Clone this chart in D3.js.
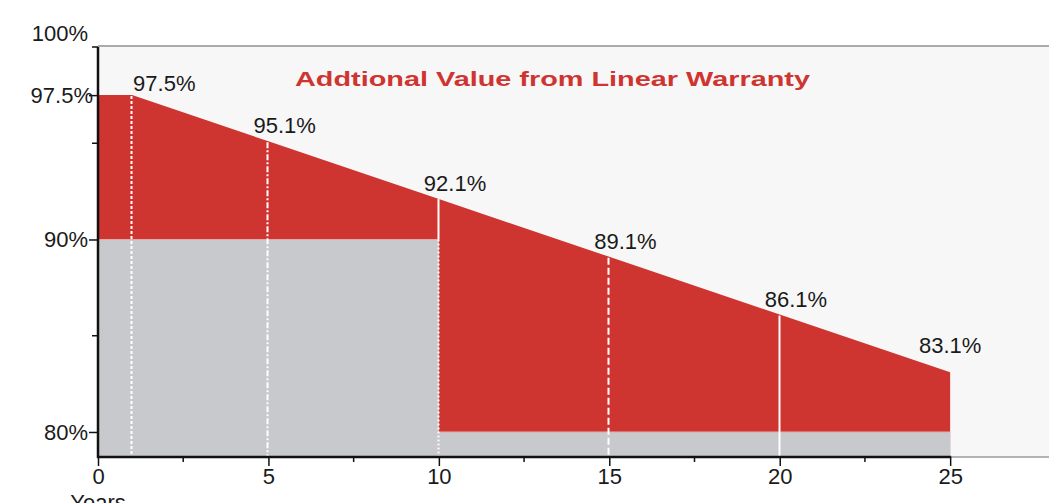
<!DOCTYPE html>
<html>
<head>
<meta charset="utf-8">
<script src="https://cdn.jsdelivr.net/npm/d3@7"></script>
<style>
  html, body { margin: 0; padding: 0; background: #fff; }
  svg { display: block; font-family: "Liberation Sans", Arial, sans-serif; }
</style>
</head>
<body>
<div id="chart"></div>
<script>
// linear warranty curve (year, % of power)
var linearYears = [0, 1, 5, 10, 15, 20, 25];
var linearValues = [97.5, 97.5, 95.1, 92.1, 89.1, 86.1, 83.1];

// step warranty (from, to, %)
var stepFrom = [0, 10];
var stepTo = [10, 25];
var stepValues = [90, 80];

// labelled points
var labelYears = [1, 5, 10, 15, 20, 25];
var labelValues = [97.5, 95.1, 92.1, 89.1, 86.1, 83.1];
var labelTexts = ["97.5%", "95.1%", "92.1%", "89.1%", "86.1%", "83.1%"];

var xTicks = [0, 5, 10, 15, 20, 25];
var xMinor = [2.5, 7.5, 12.5, 17.5, 22.5];
var yTicks = [80, 90, 97.5];
var yTickLabels = ["80%", "90%", "97.5%"];
var yMinor = [85, 95, 100];

var title = "Addtional Value from Linear Warranty";

var width = 1049, height = 503;
var plotLeft = 98, plotTop = 47, plotBottom = 457, plotRight = 1049;
var red = "#cf3530", grey = "#c8c9cd";

var x = d3.scaleLinear().domain([0, 27.9]).range([plotLeft, plotRight]);
var y = d3.scaleLinear().domain([78.7, 100]).range([plotBottom, plotTop]);

var svg = d3.select("#chart").append("svg")
  .attr("width", width)
  .attr("height", height);

// plot background
svg.append("rect")
  .attr("x", plotLeft).attr("y", plotTop)
  .attr("width", plotRight - plotLeft).attr("height", plotBottom - plotTop)
  .attr("fill", "#f7f7f7");
svg.append("line")
  .attr("x1", plotLeft).attr("x2", plotRight)
  .attr("y1", plotTop - 1).attr("y2", plotTop - 1)
  .attr("stroke", "#a9abae").attr("stroke-width", 2);
svg.append("line")
  .attr("x1", x(25)).attr("x2", plotRight)
  .attr("y1", plotBottom).attr("y2", plotBottom)
  .attr("stroke", "#b0b2b5").attr("stroke-width", 2);

// red area under the linear warranty
var pts = linearYears.map((d, i) => [d, linearValues[i]]);
var area = d3.area()
  .x(d => x(d[0]))
  .y0(plotBottom)
  .y1(d => y(d[1]));
svg.append("path")
  .datum(pts)
  .attr("d", area)
  .attr("fill", red);

// grey step warranty
stepFrom.forEach((f, i) => {
  svg.append("rect")
    .attr("x", x(f)).attr("y", y(stepValues[i]))
    .attr("width", x(stepTo[i]) - x(f))
    .attr("height", plotBottom - y(stepValues[i]))
    .attr("fill", grey);
  svg.append("line")
    .attr("x1", x(f)).attr("x2", x(stepTo[i]))
    .attr("y1", y(stepValues[i])).attr("y2", y(stepValues[i]))
    .attr("stroke", "#e6a8a6").attr("stroke-width", 1);
});

// white marker lines
var dashFor = { 1: "3,2", 5: "6,2,2,2", 15: "7,3", 20: null };
labelYears.forEach((yr, i) => {
  if (yr === 25) return;
  var xp = Math.round(x(yr)) - 0.5;
  if (yr === 10) {
    svg.append("line")
      .attr("x1", xp).attr("x2", xp)
      .attr("y1", y(labelValues[i])).attr("y2", y(90))
      .attr("stroke", "#fff").attr("stroke-width", 2);
    svg.append("line")
      .attr("x1", xp).attr("x2", xp)
      .attr("y1", y(90)).attr("y2", plotBottom)
      .attr("stroke", "#fff").attr("stroke-width", 2)
      .attr("stroke-dasharray", "2,2");
    return;
  }
  svg.append("line")
    .attr("x1", xp).attr("x2", xp)
    .attr("y1", y(labelValues[i]) + 1).attr("y2", plotBottom)
    .attr("stroke", "#fff").attr("stroke-width", 2)
    .attr("stroke-dasharray", dashFor[yr]);
});

// value labels
labelYears.forEach((yr, i) => {
  var t = svg.append("text")
    .attr("font-size", 22)
    .attr("fill", "#1a1a1a")
    .text(labelTexts[i]);
  if (i === 0) {
    t.attr("x", x(yr) + 1).attr("y", y(labelValues[i]) - 4);
  } else if (yr === 25) {
    t.attr("x", x(yr)).attr("y", y(labelValues[i]) - 19).attr("text-anchor", "middle");
  } else {
    t.attr("x", x(yr) - 15).attr("y", y(labelValues[i]) - 8);
  }
});

// title
svg.append("text")
  .attr("x", 295).attr("y", 86)
  .attr("font-size", 21)
  .attr("font-weight", "bold")
  .attr("fill", red)
  .attr("textLength", 515)
  .attr("lengthAdjust", "spacingAndGlyphs")
  .text(title);

// y axis
var yAxis = d3.axisLeft(y)
  .tickValues(yTicks)
  .tickFormat((d, i) => yTickLabels[i])
  .tickSize(9)
  .tickPadding(1);
var gy = svg.append("g")
  .attr("transform", "translate(" + plotLeft + ",0)")
  .call(yAxis);
gy.select(".domain").remove();
gy.selectAll(".tick line").attr("stroke", "#111").attr("stroke-width", 1.5);
gy.selectAll(".tick text")
  .attr("font-size", 22)
  .attr("font-family", "Liberation Sans, Arial, sans-serif")
  .attr("fill", "#1a1a1a")
  .attr("dx", d => d === 97.5 ? 5 : 0);
yMinor.forEach(v => {
  svg.append("line")
    .attr("x1", plotLeft - 6).attr("x2", plotLeft)
    .attr("y1", y(v)).attr("y2", y(v))
    .attr("stroke", "#111").attr("stroke-width", 1.5);
});
svg.append("text")
  .attr("x", plotLeft - 10).attr("y", y(100) - 6)
  .attr("text-anchor", "end")
  .attr("font-size", 22)
  .attr("fill", "#1a1a1a")
  .text("100%");
svg.append("line")
  .attr("x1", plotLeft).attr("x2", plotLeft)
  .attr("y1", plotTop).attr("y2", plotBottom + 1)
  .attr("stroke", "#111").attr("stroke-width", 2.5);

// x axis
var xAxis = d3.axisBottom(x)
  .tickValues(xTicks)
  .tickFormat(d3.format("d"))
  .tickSize(9)
  .tickPadding(2);
var gx = svg.append("g")
  .attr("transform", "translate(0," + plotBottom + ")")
  .call(xAxis);
gx.select(".domain").remove();
gx.selectAll(".tick line").attr("stroke", "#111").attr("stroke-width", 1.5);
gx.selectAll(".tick text")
  .attr("font-size", 22)
  .attr("font-family", "Liberation Sans, Arial, sans-serif")
  .attr("fill", "#1a1a1a");
xMinor.forEach(v => {
  svg.append("line")
    .attr("x1", x(v)).attr("x2", x(v))
    .attr("y1", plotBottom).attr("y2", plotBottom + 5)
    .attr("stroke", "#111").attr("stroke-width", 1.5);
});
svg.append("line")
  .attr("x1", plotLeft - 1).attr("x2", x(25) + 1)
  .attr("y1", plotBottom).attr("y2", plotBottom)
  .attr("stroke", "#111").attr("stroke-width", 2.5);

svg.append("text")
  .attr("x", x(0)).attr("y", 510)
  .attr("text-anchor", "middle")
  .attr("font-size", 22)
  .attr("fill", "#1a1a1a")
  .text("Years");
</script>
</body>
</html>
